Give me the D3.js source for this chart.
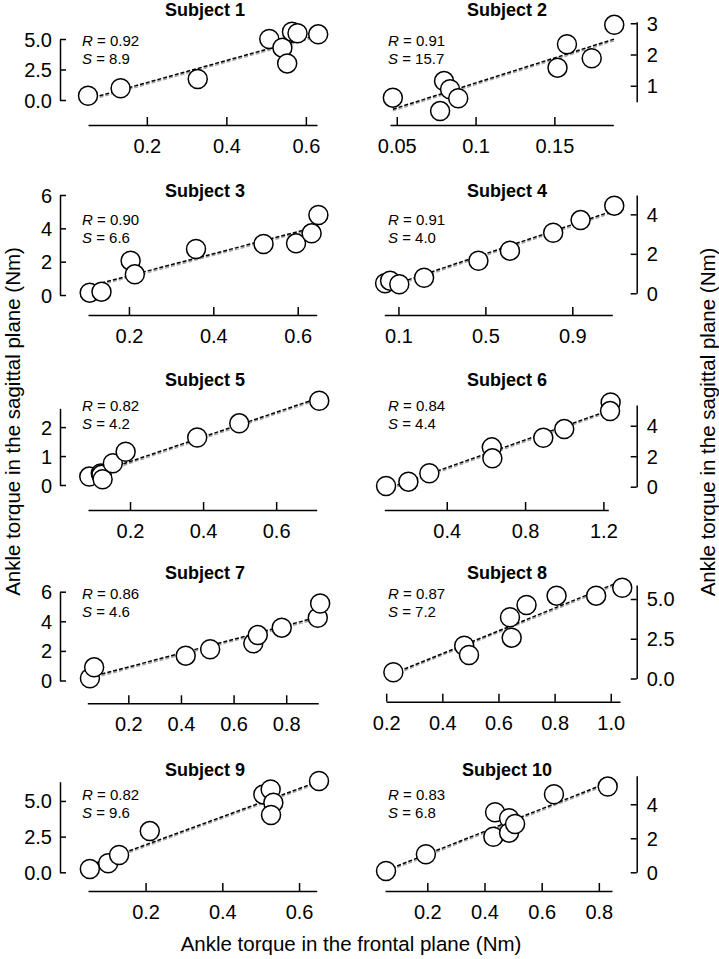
<!DOCTYPE html>
<html>
<head>
<meta charset="utf-8">
<script src="https://cdn.jsdelivr.net/npm/d3@7"></script>
<style>
  html, body { margin: 0; padding: 0; background: #fff; }
  svg { display: block; }
  text { font-family: "Liberation Sans", Arial, Helvetica, sans-serif; fill: #000; }
</style>
</head>
<body>
<svg id="chart" width="719" height="959"></svg>
<script>
// ---------------- DATA ----------------
const subjects = ["Subject 1","Subject 2","Subject 3","Subject 4","Subject 5",
                  "Subject 6","Subject 7","Subject 8","Subject 9","Subject 10"];
const rValues = ["0.92","0.91","0.90","0.91","0.82","0.84","0.86","0.87","0.82","0.83"];
const sValues = ["8.9","15.7","6.6","4.0","4.2","4.4","4.6","7.2","9.6","6.8"];

// frontal-plane torque (x) per subject
const xValues = [
  [0.052,0.134,0.328,0.508,0.541,0.553,0.565,0.579,0.631],
  [0.0475,0.0775,0.080,0.0838,0.089,0.152,0.158,0.1737,0.188],
  [0.107,0.135,0.204,0.214,0.359,0.519,0.596,0.633,0.649],
  [0.0386,0.0616,0.104,0.218,0.468,0.613,0.812,0.938,1.093],
  [0.0885,0.120,0.122,0.125,0.153,0.188,0.384,0.499,0.718],
  [0.09,0.204,0.311,0.63,0.633,0.893,1.0,1.237,1.234],
  [0.054,0.07,0.418,0.511,0.675,0.692,0.783,0.92,0.929],
  [0.2255,0.478,0.495,0.641,0.647,0.700,0.807,0.948,1.041],
  [0.0548,0.1026,0.131,0.211,0.507,0.526,0.533,0.527,0.652],
  [0.0556,0.195,0.437,0.431,0.486,0.486,0.507,0.643,0.831]
];
// sagittal-plane torque (y) per subject
const yValues = [
  [0.35,0.96,1.72,5.0,4.29,3.0,5.6,5.47,5.38],
  [0.62,0.19,1.15,0.89,0.60,1.58,2.33,1.88,2.95],
  [0.14,0.2,2.06,1.24,2.76,3.06,3.1,3.7,4.8],
  [0.51,0.64,0.46,0.79,1.65,2.16,3.07,3.71,4.44],
  [0.29,0.40,0.35,0.2,0.75,1.15,1.64,2.13,2.91],
  [0.05,0.33,0.88,2.58,1.86,3.21,3.78,5.53,4.96],
  [0.15,0.89,1.68,2.11,2.51,3.07,3.57,4.24,5.2],
  [0.39,2.06,1.48,3.85,2.57,4.62,5.21,5.21,5.71],
  [0.23,0.63,1.21,2.89,5.46,5.81,4.88,4.02,6.4],
  [0.08,1.06,3.53,2.09,3.18,2.33,2.84,4.59,5.04]
];

const xTickLabels = [
  ["0.2","0.4","0.6"],
  ["0.05","0.1","0.15"],
  ["0.2","0.4","0.6"],
  ["0.1","0.5","0.9"],
  ["0.2","0.4","0.6"],
  ["0.4","0.8","1.2"],
  ["0.2","0.4","0.6","0.8"],
  ["0.2","0.4","0.6","0.8","1.0"],
  ["0.2","0.4","0.6"],
  ["0.2","0.4","0.6","0.8"]
];
const yTickLabels = [
  ["0.0","2.5","5.0"],
  ["1","2","3"],
  ["0","2","4","6"],
  ["0","2","4"],
  ["0","1","2"],
  ["0","2","4"],
  ["0","2","4","6"],
  ["0.0","2.5","5.0"],
  ["0.0","2.5","5.0"],
  ["0","2","4"]
];
// extent of each drawn axis line, in data units
const xAxisExtent = [
  [0.052,0.628],[0.0457,0.1874],[0.103,0.645],[0.035,1.084],[0.085,0.711],
  [0.081,1.225],[0.044,0.922],[0.2,1.033],[0.05,0.646],[0.052,0.846]
];
const yAxisExtent = [
  [0,5],[0.49,3.05],[0,6],[0,4.98],[0,2.65],
  [0,5.36],[0,6],[0,5.88],[0,6.35],[0,5.68]
];

const xAxisTitle = "Ankle torque in the frontal plane (Nm)";
const yAxisTitle = "Ankle torque in the sagittal plane (Nm)";

// ---------------- LAYOUT (pixels) ----------------
const layout = [
  {side:"left",  xPix:[88,317],     yPix:[100,39],     axisY:125,   titleY:10,    rY:40},
  {side:"right", xPix:[390,613.3],  yPix:[101.7,21.7], axisY:125,   titleY:10,    rY:40},
  {side:"left",  xPix:[88,316.7],   yPix:[295,195],    axisY:315,   titleY:191,   rY:219.3},
  {side:"right", xPix:[384.3,612.3],yPix:[293.3,195],  axisY:315,   titleY:191,   rY:219.3},
  {side:"left",  xPix:[88,316.7],   yPix:[485,408.3],  axisY:510,   titleY:379.5, rY:405},
  {side:"right", xPix:[384.3,608.3],yPix:[486.7,405],  axisY:510,   titleY:379.5, rY:405},
  {side:"left",  xPix:[87.3,318.3], yPix:[680.5,591.7],axisY:703.3, titleY:572.5, rY:593},
  {side:"right", xPix:[386.2,620],  yPix:[678.5,585],  axisY:701.7, titleY:572.5, rY:593},
  {side:"left",  xPix:[88,316.7],   yPix:[872.3,781.7],axisY:891,   titleY:770,   rY:794.3},
  {side:"right", xPix:[385,612],    yPix:[872.3,775.7],axisY:891,   titleY:770,   rY:794.3}
];
const leftAxisX = 60, rightAxisX = 636.7;
const titleX = {left:205, right:507};
const statX = {left:82, right:388};

const svg = d3.select("#chart");
const FONT = '"Liberation Sans", Arial, Helvetica, sans-serif';

function olsFit(xs, ys) {
  const mx = d3.mean(xs), my = d3.mean(ys);
  let sxy = 0, sxx = 0;
  xs.forEach((x, i) => { sxy += (x - mx) * (ys[i] - my); sxx += (x - mx) * (x - mx); });
  const b = sxy / sxx;
  return {slope: b, intercept: my - b * mx};
}

subjects.forEach((name, i) => {
  const L = layout[i];
  const g = svg.append("g");
  const x = d3.scaleLinear().domain(xAxisExtent[i]).range(L.xPix);
  const y = d3.scaleLinear().domain(yAxisExtent[i]).range(L.yPix);

  // x axis
  const xTicks = xTickLabels[i].map(Number);
  const xa = g.append("g").attr("transform", `translate(0,${L.axisY})`)
    .call(d3.axisBottom(x).tickValues(xTicks)
      .tickFormat((d, k) => xTickLabels[i][k]).tickSizeInner(-8).tickSizeOuter(0));
  xa.selectAll("text").attr("y", 21).attr("dy", null)
    .attr("dominant-baseline", "central");

  // y axis
  const yTicks = yTickLabels[i].map(Number);
  const isLeft = L.side === "left";
  const axisX = isLeft ? leftAxisX : rightAxisX;
  const yAxisGen = (isLeft ? d3.axisLeft(y) : d3.axisRight(y))
    .tickValues(yTicks).tickFormat((d, k) => yTickLabels[i][k])
    .tickSizeInner(-6).tickSizeOuter(0).tickPadding(isLeft ? 8 : 10);
  const ya = g.append("g").attr("transform", `translate(${axisX},0)`).call(yAxisGen);
  ya.selectAll("text").attr("dy", null).attr("dominant-baseline", "central");

  [xa, ya].forEach(a => {
    a.attr("font-family", FONT).attr("font-size", 20);
    a.select(".domain").attr("stroke", "#000").attr("stroke-width", 1.5);
    a.selectAll(".tick line").attr("stroke", "#000").attr("stroke-width", 1.5);
    a.selectAll("text").attr("fill", "#000");
  });

  // regression lines
  const xs = xValues[i], ys = yValues[i];
  const fit = olsFit(xs, ys);
  const xr = d3.extent(xs);
  const linePts = xr.map(v => [v, fit.intercept + fit.slope * v]);
  const lineGen = d3.line().x(d => x(d[0])).y(d => y(d[1]));
  g.append("path").datum(linePts).attr("d", lineGen)
    .attr("transform", "translate(0,1.6)")
    .attr("fill", "none").attr("stroke", "#a6a6a6").attr("stroke-width", 1.6)
    .attr("stroke-dasharray", "4,2");
  g.append("path").datum(linePts).attr("d", lineGen)
    .attr("fill", "none").attr("stroke", "#000").attr("stroke-width", 1.5)
    .attr("stroke-dasharray", "4,2");

  // points
  g.selectAll("circle.pt").data(xs.map((v, k) => [v, ys[k]])).enter()
    .append("circle").attr("class", "pt")
    .attr("cx", d => x(d[0])).attr("cy", d => y(d[1])).attr("r", 9.5)
    .attr("fill", "#fff").attr("stroke", "#000").attr("stroke-width", 1.5);

  // title
  g.append("text").attr("x", titleX[L.side]).attr("y", L.titleY)
    .attr("text-anchor", "middle").attr("dominant-baseline", "central")
    .attr("font-size", 18).attr("font-weight", "bold").text(name);

  // R and S
  const sx = statX[L.side];
  const tR = g.append("text").attr("x", sx).attr("y", L.rY)
    .attr("dominant-baseline", "central").attr("font-size", 15);
  tR.append("tspan").attr("font-style", "italic").text("R");
  tR.append("tspan").text(" = " + rValues[i]);
  const tS = g.append("text").attr("x", sx).attr("y", L.rY + 17.5)
    .attr("dominant-baseline", "central").attr("font-size", 15);
  tS.append("tspan").attr("font-style", "italic").text("S");
  tS.append("tspan").text(" = " + sValues[i]);
});

// axis titles
svg.append("text").attr("x", 351).attr("y", 943)
  .attr("text-anchor", "middle").attr("dominant-baseline", "central")
  .attr("font-size", 20.5).text(xAxisTitle);
svg.append("text").attr("transform", "translate(12,421.5) rotate(-90)")
  .attr("text-anchor", "middle").attr("dominant-baseline", "central")
  .attr("font-size", 20.5).text(yAxisTitle);
svg.append("text").attr("transform", "translate(707,422) rotate(-90)")
  .attr("text-anchor", "middle").attr("dominant-baseline", "central")
  .attr("font-size", 20.5).text(yAxisTitle);
</script>
</body>
</html>
